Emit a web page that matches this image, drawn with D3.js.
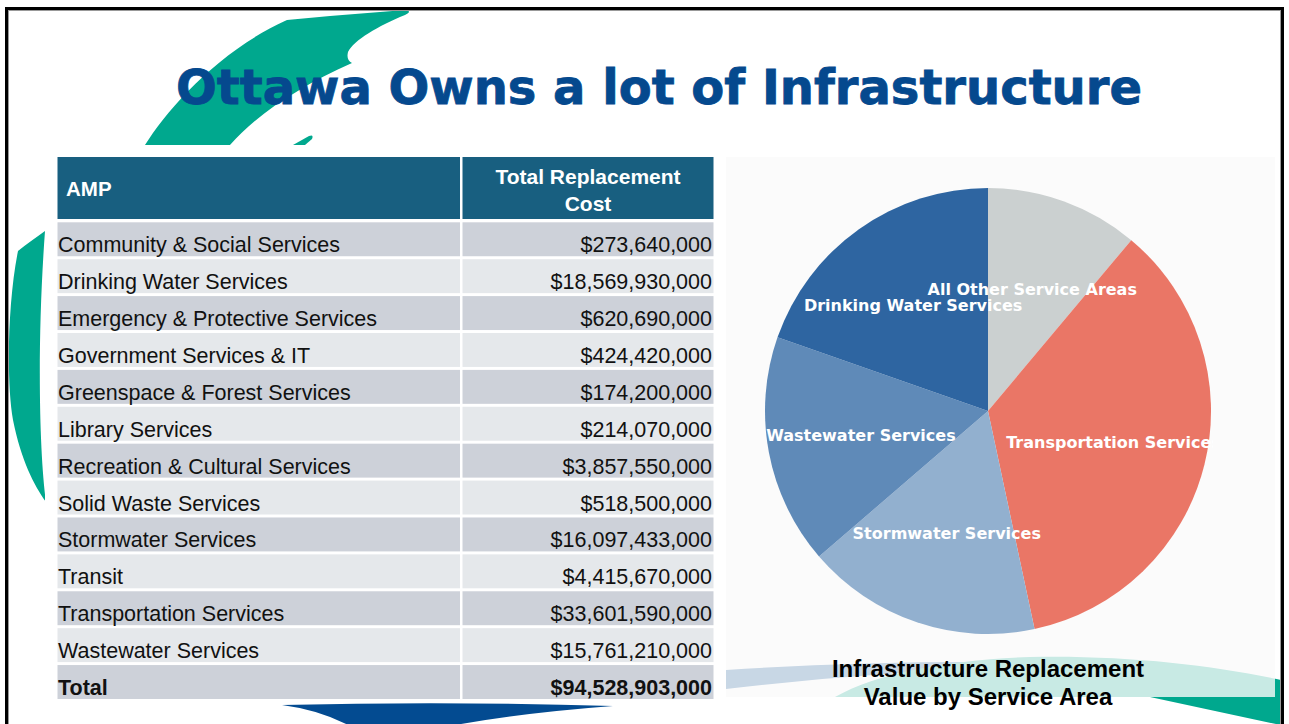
<!DOCTYPE html>
<html>
<head>
<meta charset="utf-8">
<script src="https://cdn.jsdelivr.net/npm/d3@7"></script>
<style>
html,body{margin:0;padding:0;background:#fff;}
svg{display:block;}
</style>
</head>
<body>
<svg id="chart" width="1289" height="724"></svg>
<script>
// ---------- DATA ----------
const title = "Ottawa Owns a lot of Infrastructure";
const headerLeft = "AMP";
const headerRight = ["Total Replacement", "Cost"];
const categories = [
  "Community & Social Services",
  "Drinking Water Services",
  "Emergency & Protective Services",
  "Government Services & IT",
  "Greenspace & Forest Services",
  "Library Services",
  "Recreation & Cultural Services",
  "Solid Waste Services",
  "Stormwater Services",
  "Transit",
  "Transportation Services",
  "Wastewater Services"
];
const costs = [
  273640000, 18569930000, 620690000, 424420000, 174200000, 214070000,
  3857550000, 518500000, 16097433000, 4415670000, 33601590000, 15761210000
];
const totalLabel = "Total";
const totalCost = 94528903000;

const pieLabels = [
  "All Other Service Areas",
  "Transportation Services",
  "Stormwater Services",
  "Wastewater Services",
  "Drinking Water Services"
];
const pieValues = [10498740000, 33601590000, 16097433000, 15761210000, 18569930000];
const captionLines = ["Infrastructure Replacement", "Value by Service Area"];

// ---------- STYLE ----------
const pieColors = ["#cbd0d0", "#ea7666", "#92b0cf", "#5f8ab8", "#2e65a1"];
const teal = "#00a88e", navy = "#034b91";

const svg = d3.select("#chart");

// background
svg.append("rect").attr("width", 1289).attr("height", 724).attr("fill", "#fff");

// ---------- decorative swooshes ----------
svg.append("clipPath").attr("id", "frameclip")
  .append("rect").attr("x", 0).attr("y", 0).attr("width", 1283).attr("height", 724);
const deco = svg.append("g").attr("clip-path", "url(#frameclip)");
// top-left teal swoosh
deco.append("path").attr("fill", teal).attr("d",
  "M145,145 C168,108 220,50 287,20 L330,16 L405,10 Q413,11 405,15 C378,26 354,40 348,52 Q346,60 352,63 C300,86 256,115 230,145 Z");
// small teal piece
deco.append("path").attr("fill", teal).attr("d", "M293,145 L309,136 Q314,134 312,139 L305,145 Z");
// left teal arc
deco.append("path").attr("fill", teal).attr("d",
  "M45,231 C36,238 26,244 18,251 C8,300 6,380 13,420 C21,460 34,485 46,502 C39,450 37,340 45,231 Z");
// bottom navy swoosh
deco.append("path").attr("fill", navy).attr("d",
  "M282,705 Q450,701 613,706 Q520,713 450,726 L350,726 Q320,710 282,705 Z");
// navy stripe under the image
deco.append("path").attr("fill", navy).attr("d",
  "M726,670 Q860,661 1000,662 L1000,668 Q860,673 726,689 Z");
// bottom-right teal swoosh
deco.append("path").attr("fill", teal).attr("d",
  "M835,697 C880,672 950,660 1030,657 C1130,655 1220,666 1290,682 L1290,727 L1150,697 Z");

// white panel behind table
svg.append("rect").attr("x", 45).attr("y", 145).attr("width", 677).attr("height", 558).attr("fill", "#fff");
// pie image panel (semi-opaque)
svg.append("rect").attr("x", 726).attr("y", 157).attr("width", 549).attr("height", 540)
  .attr("fill", "#fafafa").attr("opacity", 0.8);

// ---------- PIE ----------
const cx = 988, cy = 411, R = 223;
const pie = d3.pie().sort(null).value(d => d.value);
const arcs = pie(pieLabels.map((l, i) => ({label: l, value: pieValues[i]})));
const arc = d3.arc().innerRadius(0).outerRadius(R);
const labelArc = d3.arc().innerRadius(R * 0.58).outerRadius(R * 0.58);
const gPie = svg.append("g").attr("transform", `translate(${cx},${cy})`);
gPie.selectAll("path.slice").data(arcs).join("path")
  .attr("class", "slice")
  .attr("d", arc)
  .attr("fill", (d, i) => pieColors[i]);

svg.append("clipPath").attr("id", "pieclip")
  .append("rect").attr("x", cx - R).attr("y", cy - R).attr("width", 2 * R + 2).attr("height", 2 * R);
const gLab = svg.append("g").attr("clip-path", "url(#pieclip)")
  .append("g").attr("transform", `translate(${cx},${cy})`);
gLab.selectAll("text").data(arcs).join("text")
  .attr("x", d => labelArc.centroid(d)[0])
  .attr("y", d => labelArc.centroid(d)[1])
  .attr("text-anchor", "middle")
  .attr("dominant-baseline", "central")
  .attr("fill", "#fff")
  .attr("font-family", "DejaVu Sans")
  .attr("font-weight", "bold")
  .attr("font-size", 16)
  .text(d => d.data.label);

// caption
svg.append("g").selectAll("text").data(captionLines).join("text")
  .attr("x", 988).attr("y", (d, i) => 677 + i * 27.5)
  .attr("text-anchor", "middle")
  .attr("font-family", "Liberation Sans, Arial, sans-serif")
  .attr("font-weight", "bold")
  .attr("font-size", 24)
  .attr("fill", "#000")
  .text(d => d);

// ---------- TABLE ----------
const colL = [57.5, 460], colR = [462.5, 713.5];
const hdr = svg.append("g");
hdr.append("rect").attr("x", colL[0]).attr("y", 157).attr("width", colL[1] - colL[0]).attr("height", 62).attr("fill", "#185f80");
hdr.append("rect").attr("x", colR[0]).attr("y", 157).attr("width", colR[1] - colR[0]).attr("height", 62).attr("fill", "#185f80");
hdr.append("text").attr("x", 66).attr("y", 196).attr("fill", "#fff")
  .attr("font-family", "Liberation Sans, Arial, sans-serif").attr("font-weight", "bold").attr("font-size", 20.5)
  .text(headerLeft);
hdr.selectAll("text.hr").data(headerRight).join("text").attr("class", "hr")
  .attr("x", (colR[0] + colR[1]) / 2).attr("y", (d, i) => 184 + i * 26.5)
  .attr("text-anchor", "middle").attr("fill", "#fff")
  .attr("font-family", "Liberation Sans, Arial, sans-serif").attr("font-weight", "bold").attr("font-size", 21)
  .text(d => d);

const rows = categories.map((c, i) => ({name: c, value: costs[i], bold: false}))
  .concat([{name: totalLabel, value: totalCost, bold: true}]);
const y = d3.scaleBand().domain(d3.range(rows.length)).range([222.3, 699]).paddingInner(0.08);
const fmt = d3.format("$,");
const gRows = svg.append("g").selectAll("g").data(rows).join("g")
  .attr("transform", (d, i) => `translate(0,${y(i)})`);
gRows.append("rect").attr("x", colL[0]).attr("width", colL[1] - colL[0]).attr("height", y.bandwidth())
  .attr("fill", (d, i) => i % 2 === 0 ? "#cdd1d9" : "#e5e8eb");
gRows.append("rect").attr("x", colR[0]).attr("width", colR[1] - colR[0]).attr("height", y.bandwidth())
  .attr("fill", (d, i) => i % 2 === 0 ? "#cdd1d9" : "#e5e8eb");
gRows.append("text").attr("x", 58).attr("y", y.bandwidth() - 4)
  .attr("font-family", "Liberation Sans, Arial, sans-serif").attr("font-size", 21.5)
  .attr("font-weight", d => d.bold ? "bold" : "normal").attr("fill", "#111")
  .text(d => d.name);
gRows.append("text").attr("x", 712).attr("y", y.bandwidth() - 4).attr("text-anchor", "end")
  .attr("font-family", "Liberation Sans, Arial, sans-serif").attr("font-size", 21.5)
  .attr("font-weight", d => d.bold ? "bold" : "normal").attr("fill", "#111")
  .text(d => fmt(d.value));

// ---------- TITLE ----------
svg.append("text").attr("x", 659).attr("y", 104).attr("text-anchor", "middle")
  .attr("font-family", "DejaVu Sans").attr("font-weight", "bold").attr("font-size", 48)
  .attr("stroke", "#05498e").attr("stroke-width", 0.8)
  .attr("fill", "#05498e").text(title);

// ---------- FRAME ----------
svg.append("rect").attr("x", 6.5).attr("y", 8.5).attr("width", 1276).attr("height", 740)
  .attr("fill", "none").attr("stroke", "#000").attr("stroke-width", 3);
svg.append("rect").attr("x", 8.5).attr("y", 10.5).attr("width", 1272).attr("height", 740)
  .attr("fill", "none").attr("stroke", "#999").attr("stroke-width", 1);
</script>
</body>
</html>
